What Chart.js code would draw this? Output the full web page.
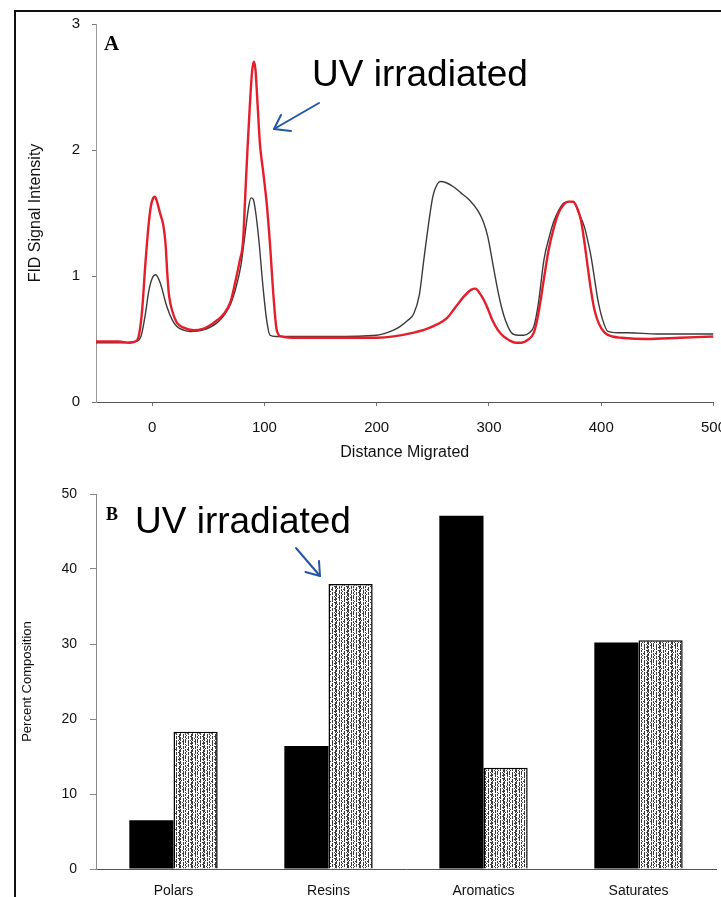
<!DOCTYPE html>
<html><head><meta charset="utf-8">
<script src="https://cdn.jsdelivr.net/npm/chart.js@4/dist/chart.umd.min.js"></script>
<style>
html,body{margin:0;padding:0;background:#fff;}
body{width:721px;height:897px;overflow:hidden;position:relative;}
#frame{position:absolute;left:14px;top:10px;width:760px;height:950px;border-left:2px solid #111;border-top:2px solid #111;}
.c{position:absolute;left:0;}
.note{position:absolute;font-family:"Liberation Sans",Arial,sans-serif;font-size:37px;line-height:37px;color:#000;white-space:nowrap;}
.panel{position:absolute;font-family:"Liberation Serif","Times New Roman",serif;font-weight:bold;color:#000;white-space:nowrap;}
svg{position:absolute;left:0;top:0;}
</style></head>
<body>
<div id="frame"></div>
<div class="c" style="top:0"><canvas id="topChart" width="740" height="470"></canvas></div>
<div class="c" style="top:470px"><canvas id="barChart" width="740" height="440"></canvas></div>
<div class="panel" style="left:104px;top:33px;font-size:21px;line-height:21px;">A</div>
<div class="panel" style="left:106px;top:505px;font-size:18px;line-height:18px;">B</div>
<div class="note" style="left:312px;top:55px;">UV irradiated</div>
<div class="note" style="left:135px;top:502px;">UV irradiated</div>
<svg width="721" height="897">
  <g fill="none" stroke="#2456a6" stroke-width="2" stroke-linecap="round" stroke-linejoin="round">
    <line x1="319" y1="103" x2="274" y2="129"/>
    <polyline points="281,115 274,129 291,131"/>
    <line x1="296" y1="548" x2="320" y2="576"/>
    <polyline points="319,561 320,576 305.5,572"/>
  </g>
</svg>
<script>
// ---- Panel A: FID signal vs distance migrated ----
const distOriginal = [-50,-30,-15,-10,-6,-3,0,3,7,13,18,22,28,34,45,58,65,70,75,79,83,86,88,90,92,95,99,102,105,110,130,160,200,215,221,228,233,238,242,246,250,254,257,262,268,275,283,290,295,299,302,305,308,311,315,320,326,331,336,340,344,349,354,358,362,367,372,376,380,385,388,391,394,397,401,406,415,424,450,480,500];
const fidOriginal  = [0.47,0.47,0.48,0.52,0.70,0.88,0.98,1.01,0.95,0.76,0.65,0.60,0.57,0.56,0.57,0.63,0.70,0.78,0.92,1.08,1.35,1.55,1.62,1.61,1.52,1.29,0.89,0.65,0.53,0.52,0.52,0.52,0.53,0.57,0.60,0.65,0.70,0.85,1.13,1.40,1.63,1.73,1.75,1.74,1.71,1.66,1.60,1.52,1.43,1.31,1.17,1.02,0.88,0.76,0.64,0.55,0.53,0.53,0.55,0.60,0.78,1.13,1.32,1.44,1.52,1.58,1.59,1.58,1.50,1.39,1.28,1.15,0.98,0.81,0.66,0.56,0.55,0.55,0.54,0.54,0.54];
const distUV = [-50,-30,-20,-15,-12,-9,-6,-3,-1,1,2.5,4,7,10,12,13.5,15,18,22,28,37,45,55,64,70,74,78,81,83,85,87,89,90.5,92,94,96,99,102,105,108,111,115,125,160,200,233,250,263,270,278,284,288,292,296,299,303,308,313,318,324,329,334,340,344,349,353,358,362,366,371,375,379,382,385,388,391,394,398,403,410,418,440,470,500];
const fidUV  = [0.48,0.48,0.47,0.48,0.52,0.72,1.10,1.42,1.56,1.62,1.63,1.60,1.50,1.40,1.25,1.02,0.85,0.72,0.63,0.59,0.57,0.58,0.63,0.70,0.80,0.95,1.12,1.28,1.65,2.02,2.35,2.62,2.70,2.64,2.35,2.05,1.82,1.58,1.25,0.85,0.57,0.52,0.51,0.51,0.51,0.55,0.60,0.67,0.75,0.84,0.89,0.90,0.86,0.80,0.74,0.65,0.57,0.52,0.49,0.47,0.47,0.49,0.55,0.70,0.98,1.20,1.39,1.50,1.56,1.59,1.59,1.53,1.44,1.27,1.07,0.88,0.73,0.62,0.55,0.52,0.51,0.50,0.51,0.52];
const distanceTicks = [0,100,200,300,400,500];
const fidTicks = [0,1,2,3];

// ---- Panel B: percent composition ----
const fractions = ['Polars','Resins','Aromatics','Saturates'];
const compOriginal = [6.5,16.4,47.1,30.2];
const compUV = [18.3,38.0,13.5,30.5];
const percentTicks = [0,10,20,30,40,50];

const SANS = '"Liberation Sans", Arial, sans-serif';
const pts = (xs, ys) => xs.map((x, i) => ({x: x, y: ys[i]}));

new Chart(document.getElementById('topChart'), {
  type: 'line',
  data: {datasets: [
    {label: 'UV irradiated', data: pts(distUV, fidUV), borderColor: '#e41e2b', borderWidth: 2.4,
     pointRadius: 0, cubicInterpolationMode: 'monotone', fill: false, order: 0},
    {label: 'Original', data: pts(distOriginal, fidOriginal), borderColor: '#3a3a3a', borderWidth: 1.4,
     pointRadius: 0, cubicInterpolationMode: 'monotone', fill: false, order: 1}
  ]},
  options: {
    responsive: false, animation: false, events: [],
    layout: {padding: {left: 0, top: 24, right: 26.5, bottom: 0}},
    plugins: {legend: {display: false}, tooltip: {enabled: false}},
    scales: {
      x: {
        type: 'linear', min: -50, max: 500,
        afterBuildTicks: s => { s.ticks = distanceTicks.map(v => ({value: v})); },
        afterFit: s => { s.height = 68; s.paddingLeft = 0; s.paddingRight = 0; },
        grid: {drawOnChartArea: false, drawTicks: true, tickLength: 4, color: '#777'},
        border: {color: '#555', width: 1, dash: [3, 2]},
        ticks: {font: {family: SANS, size: 15}, color: '#111', padding: 13, maxRotation: 0, autoSkip: false},
        title: {display: true, text: 'Distance Migrated', font: {family: SANS, size: 16}, color: '#111', padding: {top: 0, bottom: 8}}
      },
      y: {
        type: 'linear', min: 0, max: 3,
        afterBuildTicks: s => { s.ticks = fidTicks.map(v => ({value: v})); },
        afterFit: s => { s.width = 96; s.paddingTop = 0; s.paddingBottom = 0; },
        grid: {drawOnChartArea: false, drawTicks: true, tickLength: 4, color: '#777'},
        border: {color: '#999', width: 1, dash: [2, 3]},
        ticks: {font: {family: SANS, size: 15}, color: '#111', padding: 12},
        title: {display: true, text: 'FID Signal Intensity', font: {family: SANS, size: 16}, color: '#111', padding: {top: 26.4, bottom: 0}}
      }
    }
  }
});

function speckle() {
  const rows = [
    "#..#.#..#..#",
    "#..#....#.##",
    "...#.#..#..#",
    "#.....#.#...",
    "#..#.#....##",
    "#..#.#..#..#",
    ".#.#....#..#",
    "#....#.##...",
    "#..#.#..#..#",
    "#..#..#....#",
    "...#.#..#.##",
    "#..#.#..#..#",
    "#.#...#.#..#",
    "#..#.#.....#",
    "#..#.#..#.#.",
    "..##.#..#..#"
  ];
  const c = document.createElement('canvas');
  c.width = 12; c.height = rows.length;
  const g = c.getContext('2d');
  g.fillStyle = '#fff'; g.fillRect(0, 0, c.width, c.height);
  g.fillStyle = '#3a3a3a';
  rows.forEach((r, y) => { for (let x = 0; x < r.length; x++) if (r[x] === '#') g.fillRect(x, y, 1, 1); });
  return g.createPattern(c, 'repeat');
}

new Chart(document.getElementById('barChart'), {
  type: 'bar',
  data: {labels: fractions, datasets: [
    {label: 'Original', data: compOriginal, backgroundColor: '#000', borderWidth: 0},
    {label: 'UV irradiated', data: compUV, backgroundColor: speckle(), borderColor: '#000', borderWidth: 1.5}
  ]},
  options: {
    responsive: false, animation: false, events: [],
    datasets: {bar: {barPercentage: 1, categoryPercentage: 0.57}},
    layout: {padding: {left: 0, top: 24, right: 24, bottom: 0}},
    plugins: {legend: {display: false}, tooltip: {enabled: false}},
    scales: {
      x: {
        afterFit: s => { s.height = 41; s.paddingLeft = 0; s.paddingRight = 0; },
        grid: {drawOnChartArea: false, drawTicks: false},
        border: {color: '#555', width: 1, dash: [3, 2]},
        ticks: {font: {family: SANS, size: 14}, color: '#111', padding: 14, maxRotation: 0, autoSkip: false}
      },
      y: {
        min: 0, max: 50,
        afterBuildTicks: s => { s.ticks = percentTicks.map(v => ({value: v})); },
        afterFit: s => { s.width = 96; s.paddingTop = 0; s.paddingBottom = 0; },
        grid: {drawOnChartArea: false, drawTicks: true, tickLength: 6, color: '#888'},
        border: {color: '#8a8a8a', width: 1},
        ticks: {font: {family: SANS, size: 14}, color: '#111', padding: 13},
        title: {display: true, text: 'Percent Composition', font: {family: SANS, size: 13}, color: '#111', padding: {top: 19.2, bottom: 0}}
      }
    }
  }
});
</script>
</body></html>
